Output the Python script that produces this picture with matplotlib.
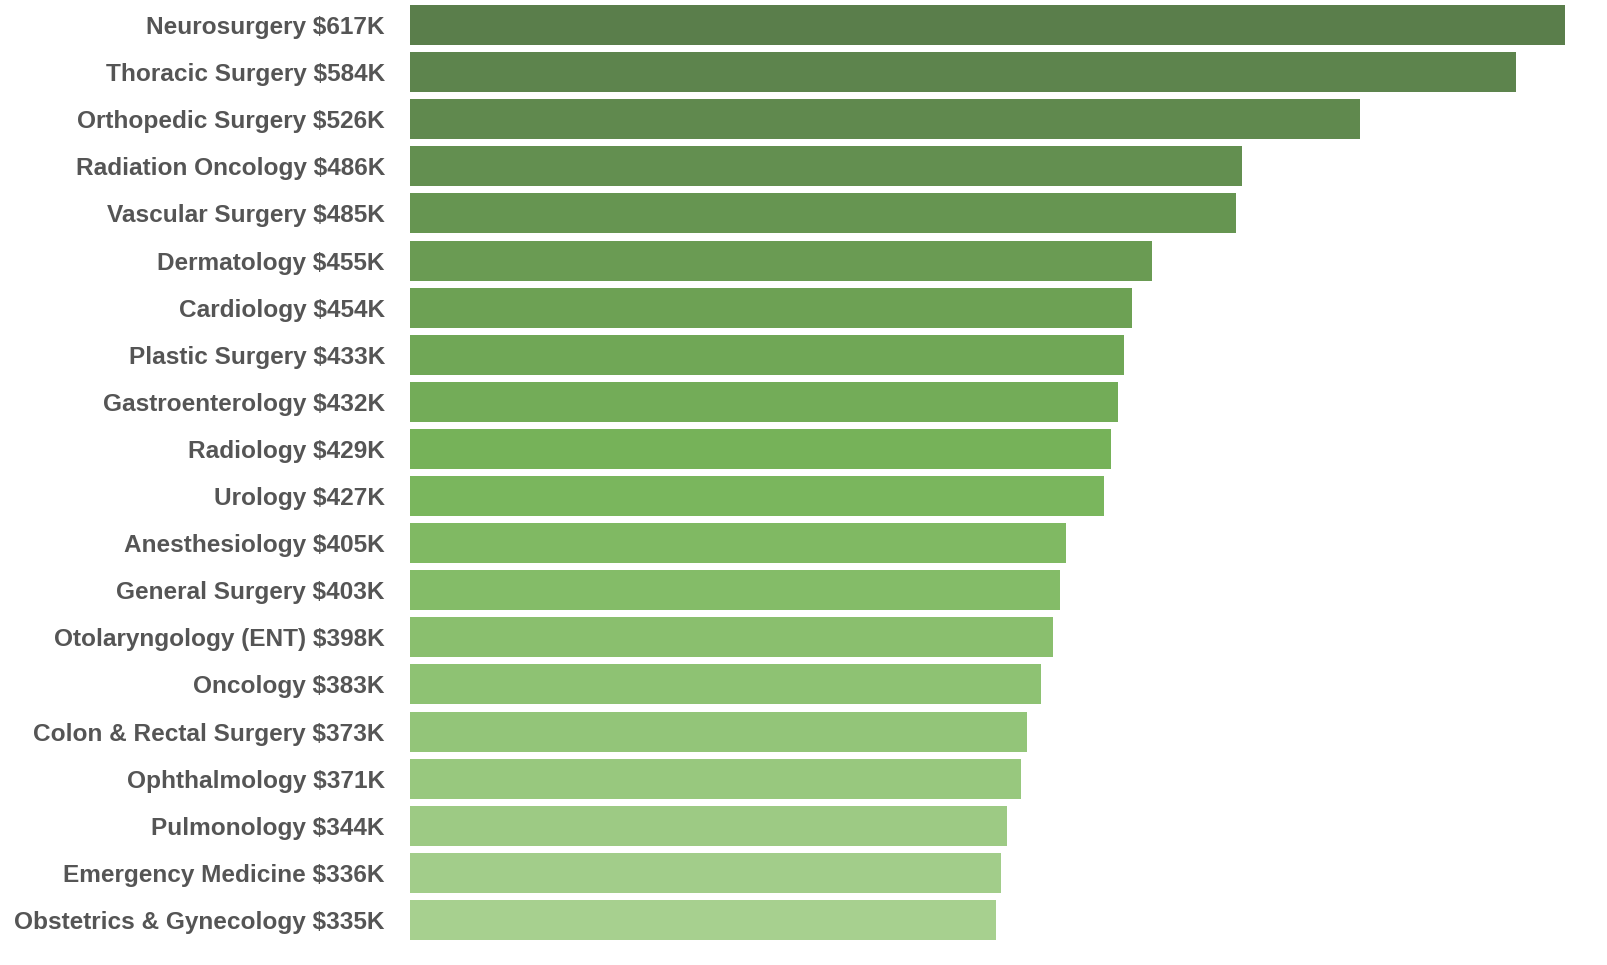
import matplotlib.pyplot as plt
import numpy as np
from matplotlib.colors import LinearSegmentedColormap

specialties = ['Neurosurgery', 'Thoracic Surgery', 'Orthopedic Surgery', 'Radiation Oncology',
               'Vascular Surgery', 'Dermatology', 'Cardiology', 'Plastic Surgery',
               'Gastroenterology', 'Radiology', 'Urology', 'Anesthesiology', 'General Surgery',
               'Otolaryngology (ENT)', 'Oncology', 'Colon & Rectal Surgery', 'Ophthalmology',
               'Pulmonology', 'Emergency Medicine', 'Obstetrics & Gynecology']
salary_k = [617, 584, 526, 486, 485, 455, 454, 433, 432, 429, 427, 405, 403, 398, 383,
            373, 371, 344, 336, 335]
# bar lengths as drawn in the picture (they do not follow the labels linearly)
bar_len = [1155, 1106, 950, 832, 826, 742, 722, 714, 708, 701, 694, 656, 650, 643, 631,
           617, 611, 597, 591, 586]

labels = [f'{s} ${v}K' for s, v in zip(specialties, salary_k)]

cmap = LinearSegmentedColormap.from_list('greens', ['#5a7e4b', '#78b55a', '#a7d08f'])
colors = [cmap(i / (len(bar_len) - 1)) for i in range(len(bar_len))]

fig = plt.figure(figsize=(16.08, 9.65), dpi=100)
ax = fig.add_axes([410 / 1608, 1 - 943.5 / 965, 1155 / 1608, 942 / 965])

y = np.arange(len(bar_len))
ax.barh(y, bar_len, height=0.85, color=colors)
ax.set_ylim(len(bar_len) - 0.5, -0.5)
ax.set_xlim(0, max(bar_len))
ax.set_yticks(y)
ax.set_yticklabels(labels, fontsize=17.6, color='#555555', fontweight='bold',
                   family=['Liberation Sans', 'DejaVu Sans'])
ax.tick_params(axis='y', length=0, pad=18)
ax.set_xticks([])
for s in ax.spines.values():
    s.set_visible(False)

plt.savefig('out.png', dpi=100)
